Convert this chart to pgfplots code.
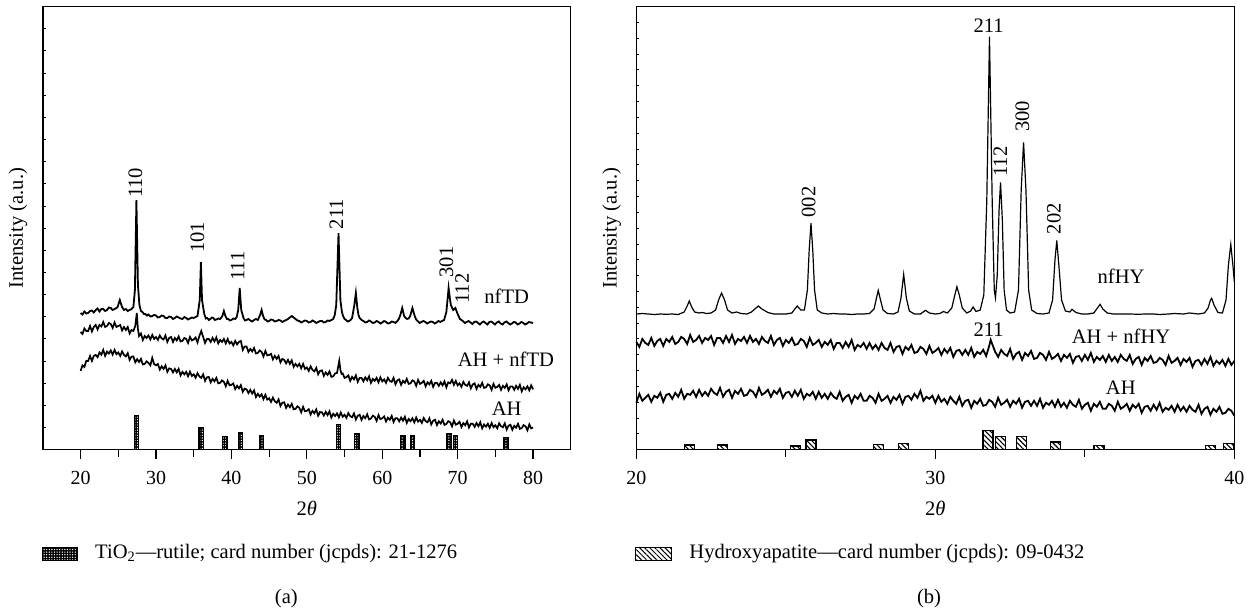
\documentclass[border=0pt]{standalone}
\usepackage{fontspec}
\setmainfont{Liberation Serif}
\usepackage{pgfplots}
\pgfplotsset{compat=1.18}
\usetikzlibrary{patterns,patterns.meta}

\tikzset{pk/.style={rotate=90, anchor=west, inner sep=0pt}}
\pgfplotsset{
  xrd/.style={
    anchor=south west, scale only axis, height=222pt,
    ymin=0, ymax=444, ytick=\empty,
    tick align=outside, xtick pos=bottom,
    major tick length=4.5pt, minor tick length=3.5pt,
    clip=false,
    axis line style={line width=0.6pt},
    every tick/.style={line width=0.6pt, black},
    ticklabel style={font=\fontsize{10}{12}\selectfont},
    xticklabel style={yshift=-2.5pt},
    /pgf/number format/assume math mode=true,
    label style={font=\fontsize{10}{12}\selectfont},
  },
  yt/.style={
    anchor=south west, scale only axis, height=222pt,
    ymin=0, ymax=444, xtick=\empty, yticklabels={},
    ytick pos=left, tick align=inside, major tick length=1.5pt,
    axis line style={line width=0.6pt},
    every tick/.style={line width=0.5pt, black},
  },
}

\begin{document}
\begin{tikzpicture}[every node/.append style={font=\fontsize{10.3}{12}\selectfont}]
\path (0,0) rectangle (625.5pt,305pt);

% ---------------- panel (a) ----------------
\begin{axis}[xrd, at={(21.5pt,80.5pt)}, width=264.5pt,
  xmin=15, xmax=85, xtick={20,30,...,80}, minor xtick={25,35,...,75},
  xlabel={2\textit{θ}}, ylabel={Intensity (a.u.)},
  every axis x label/.style={at={(rel axis cs:0.5,-0.1329)}, anchor=center},
  every axis y label/.style={at={(rel axis cs:-0.0473,0.5)}, rotate=90, anchor=center},
]
% nfTD
\addplot[black, line width=0.9pt] table {
20 137
20.25 135.5
20.5 138.5
20.75 136.5
21 137
21.25 139
21.5 139.5
21.75 137.5
22 140
22.25 141.5
22.5 138.5
22.75 141
23 141
23.25 139
23.5 140
23.75 142.5
24 142
24.25 140
24.5 141
24.75 142
24.9 143
25.2 150
25.5 143
25.75 140
26 141
26.25 139
26.5 140
26.75 141
27.0 143
27.2 160
27.4 250
27.6 165
27.8 145
28.0 139
28.2 138
28.4 136
28.6 136
28.8 134.5
29 135.5
29.25 133.5
29.5 134
29.75 135
30 134.5
30.25 132.5
30.5 133
30.75 134.5
31 134
31.25 132
31.5 132
31.75 133.5
32 133
32.25 131
32.5 132
32.75 133.5
33 132.5
33.25 131.5
33.5 131
33.75 133
34 132
34.25 130.5
34.5 131.5
34.75 132.5
35 132
35.25 133
35.5 134
35.8 150
35.95 188
36.1 150
36.4 136
36.6 131.5
36.8 132
37.0 130
37.2 131
37.4 132.5
37.6 132
37.8 130
38 130.5
38.25 131.5
38.5 131
38.8 134
39.0 139
39.2 134
39.4 131
39.6 131
39.8 129.5
40 130
40.25 131.5
40.5 131
40.7 133
40.9 140
41.1 162
41.3 140
41.6 132
41.8 129.5
42 130
42.25 131
42.5 129.5
42.75 128.5
43 130
43.25 131
43.5 130
43.8 135
44.0 140
44.2 134
44.4 130.5
44.6 130
44.8 128.5
45 129
45.25 130.5
45.5 130
45.75 128.5
46 129
46.25 130
46.5 129.5
46.75 128
47 129
47.25 130
47.5 131
47.75 132.5
48 134
48.25 132.5
48.5 131
48.75 129.5
49 129
49.25 127.5
49.5 128.5
49.75 129.5
50 129
50.25 127.5
50.5 128
50.75 129.5
51 128.5
51.25 127
51.5 128
51.75 129
52 129
52.25 127.5
52.5 128
52.75 129.5
53 129
53.25 130
53.5 131
53.7 135
53.9 145
54.2 217
54.45 150
54.65 138
54.8 134
55.0 131
55.2 130
55.4 128.5
55.6 129
55.8 130
56.0 132
56.3 145
56.5 157
56.7 142
56.85 135
57 132
57.25 130
57.5 129
57.75 127.5
58 128
58.25 129.5
58.5 128.5
58.75 127
59 127.5
59.25 129
59.5 128
59.75 126.5
60 127.5
60.25 129
60.5 128
60.75 126.5
61 127
61.25 128.5
61.5 128
61.75 127
62 129
62.2 131
62.4 135
62.65 142
62.9 134
63.1 132
63.3 131
63.5 131.5
63.7 134
64.0 142
64.3 134
64.5 130.5
64.7 129
64.95 127
65.2 128
65.45 129
65.7 128
65.95 126.5
66.2 127.5
66.45 128.5
66.7 128
66.95 126.5
67.2 127.5
67.45 129
67.7 128
67.95 129
68.2 130
68.5 138
68.8 162
69.0 150
69.1 145
69.4 140
69.7 142
70.0 136
70.3 131
70.5 130
70.7 129
70.95 127
71.2 128
71.45 129
71.7 127.5
71.95 126
72.2 128
72.45 128.5
72.7 127
72.95 125.5
73.2 127.5
73.45 128.5
73.7 127
73.95 125.5
74.2 128
74.45 128.5
74.7 127
74.95 125.5
75.2 127.5
75.45 128.5
75.7 126.5
75.95 125.5
76.2 127.5
76.45 128.5
76.7 127
76.95 125.5
77.2 126.5
77.45 128
77.7 127.5
77.95 125.5
78.2 126.5
78.45 128
78.7 127
78.95 125.5
79.2 126.5
79.45 128
79.7 127.5
80 127
};
% AH + nfTD
\addplot[black, line width=0.85pt] table {
20.00 118
20.25 116
20.5 121.5
20.75 119
21.0 119
21.25 124
21.5 118.5
21.75 123
22.0 125
22.25 120.5
22.5 125
22.75 123.5
23.0 128
23.25 123
23.5 124
23.75 127
24.0 126
24.25 122
24.5 127.5
24.75 123
25.0 124
25.25 125
25.5 119.5
25.75 123
26.0 120
26.25 123
26.5 116.5
26.75 120
27.0 119
27.25 124
27.45 137
27.6 121
27.75 114
28.0 116.5
28.25 110
28.5 114
28.75 112
29.0 114.5
29.25 110.5
29.5 115
29.75 111
30.0 113
30.25 110
30.5 114.5
30.75 111.5
31.0 110.5
31.25 114.5
31.5 108
31.75 112
32.0 113
32.25 108
32.5 112
32.75 109.5
33.0 113.5
33.25 108.5
33.5 109
33.75 112
34.0 111
34.25 107
34.5 113
34.75 109.5
35.0 110.5
35.25 112.5
35.5 107.5
35.75 114
36.0 119
36.25 113
36.5 107
36.75 111
37.0 111
37.25 108
37.5 112
37.75 108.5
38.0 112.5
38.25 106.5
38.5 110
38.75 108
39.0 111
39.25 106.5
39.5 111
39.75 106.5
40.0 108
40.25 104.5
40.5 109
40.75 105.5
41.0 108
41.25 109
41.5 100
41.75 103.5
42.0 103.5
42.25 98
42.5 101
42.75 98.5
43.0 102
43.25 96.5
43.5 97
43.75 99.5
44.0 98
44.25 93.5
44.5 99
44.75 94.5
45.0 95
45.25 96
45.5 90.5
45.75 94
46.0 91
46.25 94
46.5 87.5
46.75 91
47.0 90
47.25 86.5
47.5 90
47.75 86
48.0 89.5
48.25 83
48.5 86
48.75 83.5
49.0 86
49.25 81.5
49.5 86
49.75 81
50.0 82.5
50.25 79
50.5 83.5
50.75 80
51.0 78.5
51.25 82
51.5 75.5
51.75 79
52.0 79.5
52.25 74
52.5 77.5
52.75 75
53.0 78.5
53.25 73
53.5 73.5
53.75 76.5
54.0 77
54.15 83
54.3 89
54.45 80
54.6 76
54.75 76.5
55.0 72
55.25 72.75
55.5 74.5
55.75 69
56.0 73
56.25 70.5
56.5 74.5
56.75 68
57.0 72
57.25 72
57.5 68.5
57.75 72.5
58.0 69.5
58.25 73.5
58.5 67
58.75 71
59.0 69
59.25 72
59.5 67.5
59.75 72.5
60.0 68.5
60.25 70.5
60.5 67
60.75 72
61.0 69
61.25 68
61.5 72
61.75 65.5
62.0 69.5
62.25 70.5
62.5 65
62.75 69
63.0 67
63.25 71
63.5 66
63.75 66.5
64.0 69.5
64.25 68.5
64.5 64
64.75 70
65.0 66
65.25 67
65.5 69
65.75 63.5
66.0 67.5
66.25 65.5
66.5 69
66.75 63
67.0 67
67.25 67
67.5 64
67.75 67.5
68.0 64.5
68.25 68.5
68.5 62.5
68.75 67.5
69.0 66.5
69.25 70
69.5 65
69.75 69
70.0 64.5
70.25 66.5
70.5 63
70.75 68
71.0 65
71.25 64
71.5 67.5
71.75 61.5
72.0 65.5
72.25 66.5
72.5 61
72.75 65
73.0 63
73.25 67
73.5 62
73.75 62.5
74.0 65.5
74.25 64.5
74.5 60
74.75 66
75.0 62
75.25 63
75.5 65
75.75 60
76.0 64
76.25 62
76.5 65.5
76.75 59.5
77.0 63.5
77.25 63.5
77.5 60
77.75 64
78.0 61
78.25 65
78.5 58.5
78.75 62.5
79.0 60.5
79.25 63.5
79.5 59.5
79.75 64.5
80.0 60.5
};
% AH
\addplot[black, line width=0.85pt] table {
20.0 79
20.25 84.5
20.5 83
20.75 89
21.0 89
21.25 94
21.5 89
21.75 94
22.0 95
22.25 92.75
22.5 97.5
22.75 95.25
23.0 100
23.25 94
23.5 98.25
23.75 96.4
24.0 99.5
24.25 95.25
24.5 100
24.75 95.75
25.0 97.5
25.25 94
25.5 98.5
25.75 95
26.0 93.5
26.25 96.75
26.5 90
26.75 93.25
27.0 93.5
27.25 87.6
27.5 90.75
27.75 87.9
28.0 91
28.25 85.5
28.5 86
28.75 88.5
29.0 87
29.25 84.5
29.5 92
29.75 85.75
30.0 84.5
30.25 85.9
30.5 80.25
30.75 83.6
31.0 81
31.25 84.5
31.5 78
31.75 81.5
32.0 81
32.25 77.5
32.5 81
32.75 77.5
33.0 81
33.25 74.5
33.5 78
33.75 75.5
34.0 78
34.25 73.6
34.5 78.25
34.75 73.9
35.0 75.5
35.25 72.1
35.5 76.75
35.75 73.4
36.0 72
36.25 75.5
36.5 69
36.75 72.5
37.0 73
37.25 67.5
37.5 71
37.75 68.5
38.0 72
38.25 66.5
38.5 67
38.75 69.5
39.0 68
39.25 63.5
39.5 69
39.75 64.5
40.0 65
40.25 66.4
40.5 60.75
40.75 64.1
41.0 61.5
41.25 64.75
41.5 58
41.75 61.25
42.0 60.5
42.25 56.75
42.5 60
42.75 56.25
43.0 59.5
43.25 52.75
43.5 56
43.75 53.25
44.0 55.5
44.25 50.75
44.5 55
44.75 50.25
45.0 51.5
45.25 47.9
45.5 52.25
45.75 48.6
46.0 47
46.25 50.4
46.5 43.75
46.75 47.1
47.0 47.5
47.25 41.9
47.5 45.25
47.75 42.6
48.0 46
48.25 40.5
48.5 41
48.75 43.5
49.0 42
49.25 37.5
49.5 43
49.75 38.5
50.0 39
50.25 40.6
50.5 35.25
50.75 38.9
51.0 36.5
51.25 40.25
51.5 34
51.75 37.75
52.0 37.5
52.25 34.25
52.5 38
52.75 34.75
53.0 38.5
53.25 32.25
53.5 36
53.75 33.75
54.0 36.5
54.25 32.4
54.5 37.25
54.75 33.1
55.0 35
55.25 31.9
55.5 36.75
55.75 33.6
56.0 32.5
56.25 36.4
56.5 30.25
56.75 34.1
57.0 35
57.25 29.9
57.5 33.75
57.75 31.6
58.0 35.5
58.25 30.4
58.5 31.25
58.75 34.1
59.0 33
59.25 28.9
59.5 34.75
59.75 30.6
60.0 31.5
60.25 33.4
60.5 28.25
60.75 32.1
61.0 30
61.25 33.9
61.5 27.75
61.75 31.6
62.0 31.5
62.25 28.4
62.5 32.25
62.75 29.1
63.0 33
63.25 26.9
63.5 30.75
63.75 28.6
64.0 31.5
64.25 27.4
64.5 32.25
64.75 28.1
65.0 30
65.25 26.9
65.5 31.75
65.75 28.6
66.0 27.5
66.25 31.4
66.5 25.25
66.75 29.1
67.0 30
67.25 24.75
67.5 28.5
67.75 26.25
68.0 30
68.25 24.9
68.5 25.75
68.75 28.6
69.0 27.5
69.25 23.4
69.5 29.25
69.75 25.1
70.0 26
70.25 27.9
70.5 22.75
70.75 26.6
71.0 24.5
71.25 28.4
71.5 22.25
71.75 26.1
72.0 26
72.25 22.9
72.5 26.75
72.75 23.6
73.0 27.5
73.25 21.4
73.5 25.25
73.75 23.1
74.0 26
74.25 21.9
74.5 26.75
74.75 22.6
75.0 24.5
75.25 21.5
75.5 26.5
75.75 23.5
76.0 22.5
76.25 26.4
76.5 20.25
76.75 24.1
77.0 25
77.25 20
77.5 24
77.75 22
78.0 26
78.25 20.9
78.5 21.75
78.75 24.6
79.0 23.5
79.25 19.45
79.5 25.4
79.75 21.35
80.0 22.3
};
% TiO2 rutile reference bars
\addplot[ybar, bar width=2.3pt, draw=black, line width=0.6pt,
  preaction={fill=black},
  pattern={Dots[distance=1.3pt, radius=0.35pt]}, pattern color=white]
  coordinates {(27.4,34) (36.0,22.3) (39.1,13.3) (41.2,17) (44.0,13.7)
  (54.2,25) (56.6,15.7) (62.7,13.7) (64.0,13.7) (68.9,16) (69.7,14.3) (76.4,12.3)};
\node[pk] at (axis cs:27.25,252) {110};
\node[pk] at (axis cs:35.48,197) {101};
\node[pk] at (axis cs:40.8,169) {111};
\node[pk] at (axis cs:53.9,220.7) {211};
\node[pk] at (axis cs:68.5,172.3) {301};
\node[pk] at (axis cs:70.6,146) {112};
\node at (axis cs:76.5,154) {nfTD};
\node at (axis cs:76.4,90.7) {AH + nfTD};
\node at (axis cs:76.5,40.7) {AH};
\end{axis}
\begin{axis}[yt, at={(21.5pt,80.5pt)}, width=264.5pt, xmin=15, xmax=85, ytick distance=22.2]
\end{axis}

% ---------------- panel (b) ----------------
\begin{axis}[xrd, at={(318.85pt,80.5pt)}, width=299.65pt,
  xmin=20, xmax=40, xtick={20,30,40}, minor xtick={25,35},
  xlabel={2\textit{θ}}, ylabel={Intensity (a.u.)},
  every axis x label/.style={at={(rel axis cs:0.5,-0.1329)}, anchor=center},
  every axis y label/.style={at={(rel axis cs:-0.0412,0.5)}, rotate=90, anchor=center},
]
% nfHY
\addplot[black, line width=0.6pt] table {
20.0 136
20.2 136.5
20.4 136
20.6 135.5
20.8 136
21.0 135.7
21.2 136
21.4 135.5
21.6 138
21.7 144
21.77 149
21.85 143
21.95 138
22.1 137
22.2 137.5
22.35 136.5
22.5 137
22.65 140
22.75 150
22.85 157
22.95 150
23.05 140
23.2 137
23.35 138
23.5 136.5
23.7 136
23.85 138
24.0 142
24.08 144
24.2 141
24.4 137.5
24.6 136
24.8 136
25.0 136
25.2 137
25.3 141
25.38 144
25.5 140
25.62 140
25.72 160
25.78 200
25.84 227
25.9 200
25.96 160
26.05 140
26.2 137
26.4 136
26.6 136.5
26.8 136
27.0 136
27.2 135.5
27.4 136
27.6 136
27.8 136.5
27.95 141
28.03 152
28.09 159.7
28.15 152
28.25 140
28.4 136.5
28.6 136
28.75 138
28.85 152
28.94 175.7
29.03 152
29.13 139
29.3 136
29.5 136
29.67 139.7
29.8 137
30.0 136
30.15 136.5
30.27 138.5
30.4 137
30.55 142
30.65 155
30.72 163.3
30.8 155
30.9 142
31.05 137
31.18 139
31.26 143
31.36 138.5
31.5 140
31.62 155
31.72 250
31.81 414
31.9 250
31.97 160
32.01 152.3
32.07 175
32.13 240
32.18 268
32.24 230
32.3 160
32.38 140
32.5 137
32.65 138
32.78 160
32.87 260
32.95 308
33.03 260
33.12 160
33.22 140
33.4 136.5
33.6 136
33.8 137
33.92 150
34.0 190
34.06 209.7
34.13 185
34.22 150
34.35 139
34.5 138
34.57 140.7
34.7 137.5
34.9 136
35.1 136
35.3 137
35.42 142
35.51 145.7
35.6 141
35.75 137
35.95 136
36.2 136
36.5 136
36.8 135.7
37.0 136
37.3 136
37.5 135.5
37.8 136
38.0 136.5
38.3 136
38.5 137
38.8 136
39.0 137
39.12 142
39.2 150
39.24 151.7
39.32 145
39.45 137.5
39.6 137
39.72 150
39.8 185
39.88 205.7
39.95 185
40.0 168
};
% AH + nfHY
\addplot[black, line width=0.9pt] table {
20.0 108
20.1 103
20.2 111
20.3 107
20.4 105
20.5 112
20.6 104
20.7 109
20.8 111
20.9 104
21.0 111
21.1 108
21.2 113
21.3 106
21.4 108
21.5 113
21.6 111
21.7 106
21.8 115
21.9 108
22.0 110
22.1 114
22.2 107
22.3 112
22.4 110
22.5 114
22.6 105
22.7 112
22.8 112
22.9 107
23.0 114
23.1 108
23.2 115
23.3 106
23.4 111
23.5 109
23.6 113
23.7 107
23.8 114
23.9 108
24.0 111
24.1 106
24.2 113
24.3 109
24.4 107
24.5 114
24.6 105
24.7 110
24.8 112
24.9 104
25.0 110
25.1 107
25.2 112
25.3 105
25.4 106
25.5 111
25.6 109
25.7 103
25.8 112
25.9 105
26.0 107
26.1 110
26.2 103
26.3 108
26.4 105
26.5 110
26.6 101
26.7 107
26.8 107
26.9 102
27.0 108
27.1 103
27.2 110
27.3 100
27.4 105
27.5 103
27.6 107
27.7 101
27.8 107
27.9 101
28.0 105
28.1 100
28.2 107
28.3 102
28.4 100
28.5 107
28.6 98
28.7 103
28.8 104
28.9 96
29.0 103
29.1 100
29.2 105
29.3 97
29.4 98
29.5 103
29.6 101
29.7 96
29.8 104
29.9 97
30.0 99
30.1 102
30.2 95
30.3 101
30.4 97
30.5 102
30.6 93
30.7 99
30.8 100
30.9 95
31.0 100
31.1 95
31.2 102
31.3 93
31.4 98
31.5 96
31.6 100
31.7 94
31.8 104
31.85 110
31.9 106
32.0 98
32.1 93
32.2 100
32.3 96
32.4 94
32.5 101
32.6 91
32.7 96
32.8 98
32.9 90
33.0 97
33.1 94
33.2 99
33.3 91
33.4 92
33.5 97
33.6 95
33.7 90
33.8 98
33.9 91
34.0 93
34.1 96
34.2 89
34.3 95
34.4 92
34.5 96
34.6 87
34.7 93
34.8 94
34.9 89
35.0 95
35.1 90
35.2 97
35.3 88
35.4 93
35.5 90
35.6 94
35.7 88
35.8 95
35.9 89
36.0 93
36.1 88
36.2 95
36.3 91
36.4 89
36.5 95
36.6 86
36.7 91
36.8 93
36.9 85
37.0 92
37.1 89
37.2 94
37.3 87
37.4 88
37.5 92
37.6 90
37.7 85
37.8 94
37.9 87
38.0 89
38.1 92
38.2 85
38.3 91
38.4 88
38.5 92
38.6 83
38.7 89
38.8 90
38.9 85
39.0 91
39.1 86
39.2 93
39.3 84
39.4 89
39.5 86
39.6 90
39.7 84
39.8 91
39.9 85
40.0 89
};
% AH
\addplot[black, line width=0.9pt] table {
20.0 47
20.1 56
20.2 49
20.3 52
20.4 55
20.5 48
20.6 54
20.7 52
20.8 57
20.9 48
21.0 55
21.1 56
21.2 51
21.3 57
21.4 53
21.5 60
21.6 51
21.7 56
21.8 55
21.9 59
22.0 53
22.1 60
22.2 54
22.3 58
22.4 54
22.5 61
22.6 57
22.7 55
22.8 62
22.9 53
23.0 58
23.1 60
23.2 52
23.3 59
23.4 56
23.5 61
23.6 54
23.7 55
23.8 60
23.9 58
24.0 53
24.1 62
24.2 55
24.3 57
24.4 60
24.5 53
24.6 59
24.7 56
24.8 61
24.9 52
25.0 57
25.1 58
25.2 53
25.3 59
25.4 54
25.5 60
25.6 51
25.7 56
25.8 54
25.9 58
26.0 51
26.1 58
26.2 52
26.3 56
26.4 51
26.5 57
26.6 53
26.7 51
26.8 58
26.9 49
27.0 53
27.1 55
27.2 47
27.3 54
27.4 51
27.5 56
27.6 49
27.7 49
27.8 54
27.9 52
28.0 47
28.1 56
28.2 49
28.3 51
28.4 54
28.5 47
28.6 53
28.7 50
28.8 55
28.9 46
29.0 53
29.1 54
29.2 50
29.3 56
29.4 52
29.5 59
29.6 49
29.7 53
29.8 51
29.9 54
30.0 47
30.1 54
30.2 48
30.3 51
30.4 46
30.5 53
30.6 49
30.7 46
30.8 53
30.9 44
31.0 49
31.1 50
31.2 42
31.3 49
31.4 46
31.5 51
31.6 44
31.7 45
31.8 50
31.9 48
32.0 43
32.1 52
32.2 45
32.3 47
32.4 50
32.5 43
32.6 49
32.7 46
32.8 51
32.9 42
33.0 48
33.1 49
33.2 44
33.3 49
33.4 44
33.5 51
33.6 42
33.7 47
33.8 45
33.9 49
34.0 43
34.1 50
34.2 43
34.3 47
34.4 42
34.5 49
34.6 45
34.7 43
34.8 50
34.9 41
35.0 45
35.1 47
35.2 39
35.3 46
35.4 43
35.5 48
35.6 41
35.7 41
35.8 46
35.9 44
36.0 39
36.1 48
36.2 41
36.3 43
36.4 46
36.5 39
36.6 45
36.7 42
36.8 46
36.9 37
37.0 43
37.1 44
37.2 39
37.3 45
37.4 40
37.5 47
37.6 38
37.7 42
37.8 40
37.9 44
38.0 38
38.1 45
38.2 39
38.3 43
38.4 38
38.5 44
38.6 40
38.7 38
38.8 45
38.9 36
39.0 41
39.1 43
39.2 35
39.3 41
39.4 38
39.5 43
39.6 36
39.7 37
39.8 41
39.9 39
40.0 34
};
% Hydroxyapatite reference bars
\addplot[ybar, bar width=5pt, draw=black, line width=0.6pt, fill=white,
  postaction={pattern={Lines[angle=-45, distance=1.8pt, line width=0.55pt]}}]
  coordinates {(21.79,4.7) (22.89,4.7) (25.33,3.7) (25.84,9.7) (28.1,5.3) (28.94,6.3)
  (31.76,19) (32.18,13) (32.88,13) (34.03,7.7) (35.47,4.3) (39.2,4.3) (39.8,6.3)};
\node[pk] at (axis cs:25.76,232.3) {002};
\node at (axis cs:31.78,425) {211};
\node[pk] at (axis cs:32.17,273.3) {112};
\node[pk] at (axis cs:32.91,318.3) {300};
\node[pk] at (axis cs:33.96,215.7) {202};
\node at (axis cs:36.21,174) {nfHY};
\node at (axis cs:31.78,120.7) {211};
\node at (axis cs:36.21,114) {AH + nfHY};
\node at (axis cs:36.2,61.7) {AH};
\end{axis}
\begin{axis}[yt, at={(318.85pt,80.5pt)}, width=299.65pt, xmin=20, xmax=40, ytick distance=15.857]
\end{axis}

% ---------------- legends and panel letters ----------------
\draw[line width=0.4pt, preaction={fill=black},
  pattern={Dots[distance=1.3pt, radius=0.35pt]}, pattern color=white]
  (21pt,25pt) rectangle (39pt,31.5pt);
\node[anchor=west, inner sep=0pt] at (47.5pt,28.5pt)
  {TiO\textsubscript{2}—rutile; card number (jcpds): 21-1276};
\node at (143.5pt,6pt) {(a)};

\draw[line width=0.4pt, fill=white] (318.25pt,25pt) rectangle (336.3pt,31.5pt);
\path[pattern={Lines[angle=-45, distance=1.8pt, line width=0.5pt]}]
  (318.25pt,25pt) rectangle (336.3pt,31.5pt);
\node[anchor=west, inner sep=0pt] at (345.25pt,28.5pt)
  {Hydroxyapatite—card number (jcpds): 09-0432};
\node at (465.5pt,6pt) {(b)};
\end{tikzpicture}
\end{document}
